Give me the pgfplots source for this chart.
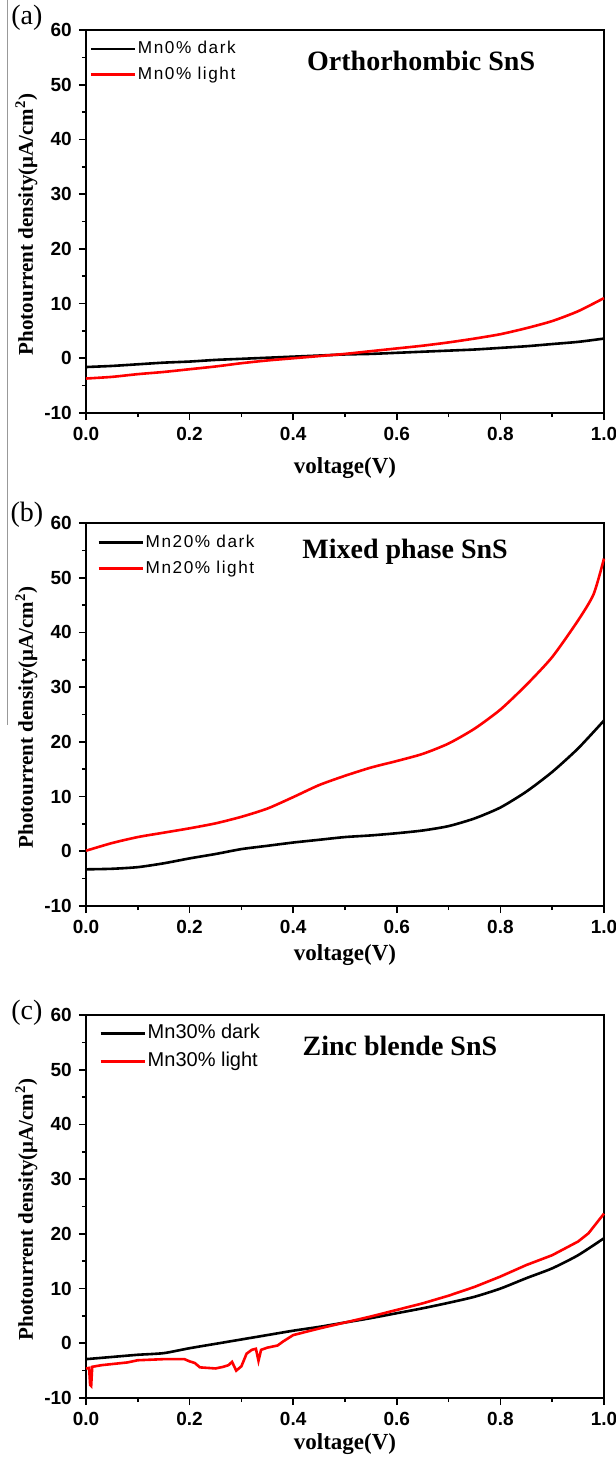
\documentclass[border=0pt]{standalone}
\usepackage{fontspec}
\setmainfont{Liberation Serif}
\setsansfont{Liberation Sans}
\newfontfamily\legfont[LetterSpace=9]{Liberation Sans}
\usepackage{pgfplots}
\pgfplotsset{compat=1.18}
\definecolor{pred}{RGB}{255,0,0}
\pgfplotsset{
  myax/.style={
    width=259pt, height=191.5pt, scale only axis, clip=false,
    xmin=0, xmax=1, ymin=-10, ymax=60,
    xtick={0,0.2,0.4,0.6,0.8,1}, xticklabels={0.0,0.2,0.4,0.6,0.8,1.0},
    minor xtick={0.1,0.3,0.5,0.7,0.9},
    ytick={-10,0,10,20,30,40,50,60}, yticklabels={-10,0,10,20,30,40,50,60},
    minor ytick={-5,5,15,25,35,45,55},
    tick align=outside, xtick pos=bottom, ytick pos=left,
    major tick length=3.6pt, minor tick length=2.1pt,
    tick style={black, line width=0.8pt},
    axis line style={black, line width=0.85pt},
    tick label style={font=\sffamily\bfseries\fontsize{9.5}{10}\selectfont},
    ylabel={Photourrent density(μA/cm\textsuperscript{2})},
    xlabel={voltage(V)},
    ylabel style={at={(axis description cs:-0.115,0.493)}, anchor=center, rotate=0, font=\bfseries\fontsize{10.5}{11}\selectfont},
    xlabel style={font=\bfseries\fontsize{11.5}{12}\selectfont, anchor=center},
    legend cell align=left,
    legend image code/.code={\draw[#1, line width=1.4pt] (0pt,0pt) -- (22pt,0pt);},
    legend style={draw=none, fill=none, anchor=north west, inner sep=0pt, row sep=3.5pt,
      nodes={inner sep=0.8pt, text height=6.3pt, text depth=1.5pt}},
  },
  dk/.style={black, line width=1.3pt, no marks},
  lt/.style={pred, line width=1.3pt, no marks},
}
\begin{document}
\begin{tikzpicture}
\useasboundingbox (-43pt,15pt) rectangle (265pt,-713.5pt);
% ---------------- (a)
\begin{axis}[myax, at={(0,0)}, anchor=north west,
  xlabel style={at={(axis description cs:0.5,-0.144)}},
  legend style={at={(axis description cs:0.006,0.976)}, font=\legfont\fontsize{8.6}{9}\selectfont}]
\addplot[dk, smooth, tension=0.4] coordinates {(0,-1.6)(0.05,-1.4)(0.1,-1.1)(0.15,-0.8)(0.2,-0.6)(0.25,-0.3)(0.3,-0.1)(0.35,0.1)(0.4,0.3)(0.45,0.5)(0.5,0.7)(0.55,0.8)(0.6,1.0)(0.65,1.2)(0.7,1.4)(0.75,1.6)(0.8,1.9)(0.85,2.2)(0.9,2.6)(0.95,3.0)(1.0,3.6)};
\addlegendentry{Mn0\% dark}
\addplot[lt, smooth, tension=0.4] coordinates {(0,-3.7)(0.05,-3.4)(0.1,-2.9)(0.15,-2.5)(0.2,-2.0)(0.25,-1.5)(0.3,-0.9)(0.35,-0.4)(0.4,0.0)(0.45,0.4)(0.5,0.8)(0.55,1.3)(0.6,1.8)(0.65,2.3)(0.7,2.9)(0.75,3.6)(0.8,4.4)(0.85,5.5)(0.9,6.8)(0.95,8.6)(1.0,11.0)};
\addlegendentry{Mn0\% light}
\node[font=\bfseries\fontsize{14}{15}\selectfont] at (axis description cs:0.647,0.919) {Orthorhombic SnS};
\node[font=\fontsize{14}{15}\selectfont] at (axis description cs:-0.114,1.031) {(a)};
\end{axis}
% ---------------- (b)
\begin{axis}[myax, at={(0,-246.5pt)}, anchor=north west,
  xlabel style={at={(axis description cs:0.5,-0.128)}},
  legend style={at={(axis description cs:0.021,0.974)}, font=\legfont\fontsize{8.6}{9}\selectfont}]
\addplot[dk, smooth, tension=0.4] coordinates {(0,-3.3)(0.05,-3.2)(0.1,-2.9)(0.15,-2.2)(0.2,-1.3)(0.25,-0.5)(0.3,0.4)(0.35,1.0)(0.4,1.6)(0.45,2.1)(0.5,2.6)(0.55,2.9)(0.6,3.3)(0.65,3.8)(0.7,4.6)(0.75,6.0)(0.8,8.0)(0.85,10.9)(0.9,14.5)(0.95,18.8)(1.0,23.9)};
\addlegendentry{Mn20\% dark}
\addplot[lt, smooth, tension=0.4] coordinates {(0,0.1)(0.05,1.5)(0.1,2.6)(0.15,3.4)(0.2,4.2)(0.25,5.1)(0.3,6.3)(0.35,7.8)(0.4,9.9)(0.45,12.1)(0.5,13.8)(0.55,15.3)(0.6,16.5)(0.65,17.8)(0.7,19.7)(0.75,22.4)(0.8,25.9)(0.85,30.4)(0.9,35.5)(0.95,42.2)(0.98,47.0)(1.0,53.5)};
\addlegendentry{Mn20\% light}
\node[font=\bfseries\fontsize{14}{15}\selectfont] at (axis description cs:0.616,0.925) {Mixed phase SnS};
\node[font=\fontsize{14}{15}\selectfont] at (axis description cs:-0.114,1.021) {(b)};
\end{axis}
% ---------------- (c)
\begin{axis}[myax, at={(0,-492.5pt)}, anchor=north west,
  xlabel style={at={(axis description cs:0.5,-0.12)}},
  legend style={at={(axis description cs:0.025,0.977)}, row sep=4.5pt, font=\sffamily\fontsize{10}{11}\selectfont}]
\addplot[dk, smooth, tension=0.4] coordinates {(0,-2.9)(0.05,-2.5)(0.1,-2.1)(0.15,-1.8)(0.2,-0.9)(0.25,-0.1)(0.3,0.7)(0.35,1.5)(0.4,2.3)(0.45,3.0)(0.5,3.8)(0.55,4.6)(0.6,5.5)(0.65,6.4)(0.7,7.4)(0.75,8.5)(0.8,10.0)(0.85,11.9)(0.9,13.7)(0.95,16.1)(1.0,19.2)};
\addlegendentry{Mn30\% dark}
\addplot[lt] coordinates {(0,-4.6)(0.006,-4.5)(0.008,-7.6)(0.01,-7.8)(0.012,-4.3)(0.03,-4.0)(0.05,-3.8)(0.08,-3.5)(0.1,-3.1)(0.15,-2.9)(0.19,-2.9)(0.2,-3.3)(0.21,-3.6)(0.22,-4.4)(0.25,-4.6)(0.265,-4.3)(0.275,-4.0)(0.282,-3.4)(0.29,-5.0)(0.3,-4.2)(0.31,-1.9)(0.32,-1.2)(0.328,-1.0)(0.333,-3.2)(0.338,-1.2)(0.35,-0.8)(0.37,-0.4)(0.38,0.3)(0.4,1.5)(0.45,2.7)(0.5,3.8)(0.55,4.9)(0.6,6.1)(0.65,7.3)(0.7,8.7)(0.75,10.3)(0.8,12.2)(0.85,14.3)(0.9,16.1)(0.95,18.6)(0.97,20.1)(1.0,23.7)};
\addlegendentry{Mn30\% light}
\node[font=\bfseries\fontsize{14}{15}\selectfont] at (axis description cs:0.606,0.92) {Zinc blende SnS};
\node[font=\fontsize{14}{15}\selectfont] at (axis description cs:-0.114,1.005) {(c)};
\end{axis}
\draw[gray!80, line width=0.5pt] (-39pt,15pt) -- (-39pt,-347.5pt);
\end{tikzpicture}
\end{document}
